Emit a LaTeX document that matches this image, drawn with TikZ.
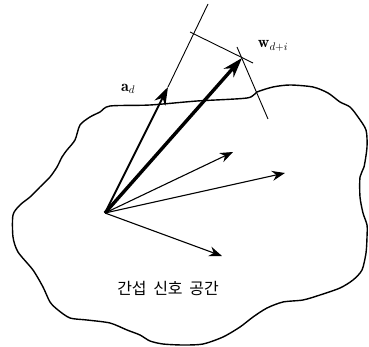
\documentclass[tikz,border=0pt]{standalone}
\usepackage{fontspec}
\newfontfamily\kor{Noto Sans CJK KR}
\usetikzlibrary{arrows.meta}

\begin{document}
\begin{tikzpicture}[x=1pt, y=-1pt, line join=round,
    vec/.style={line width=1.1pt, -{Stealth[length=13pt, width=10pt]}},
    guide/.style={line width=0.9pt}]

  \useasboundingbox (0,0) rectangle (369,347);

  % --- Interference signal space (irregular region) ---
  \draw[line width=1.4pt] plot[smooth cycle, tension=0.45] coordinates {
    (110,106) (150,105) (197,101) (247,98) (257,92) (273,87) (290,85)
    (313,87) (328,93) (340,102) (350,107) (358,117) (366,130) (367,147)
    (364,167) (360,177) (360,197) (363,213) (367,225) (367,237) (366,253)
    (362,270) (353,280) (340,288) (320,295) (303,300) (283,302) (267,308)
    (253,317) (240,327) (223,337) (203,344) (183,345) (163,344) (150,341)
    (140,335) (127,330) (110,323) (87,320) (70,318) (58,310) (50,302)
    (43,287) (33,270) (18,252) (13,237) (13,215) (20,205) (30,197)
    (40,187) (50,177) (57,167) (62,157) (67,150) (75,140) (80,125)
    (90,117) (100,112)};

  % Koordinat
  \coordinate (O)    at (105,213);   % common origin
  \coordinate (ad)   at (168,87);    % tip of a_d
  \coordinate (w)    at (242,58);    % tip of w_{d+i}
  \coordinate (v1)   at (233,152);
  \coordinate (v2)   at (285,173);
  \coordinate (v3)   at (222,256);

  % --- Guide lines ---
  \coordinate (Ltop)  at (208,4);
  \coordinate (Pa)    at (190,32);
  \coordinate (Pb)    at (253,63);
  \coordinate (Qa)    at (237,47);
  \coordinate (Qb)    at (268,119);
  \draw[guide] (ad) -- (Ltop);
  \draw[guide] (Pa) -- (Pb);
  \draw[guide] (Qa) -- (Qb);

  % --- Vectors ---
  \draw[vec] (O) -- (v1);
  \draw[vec] (O) -- (v2);
  \draw[vec] (O) -- (v3);
  \draw[line width=2pt, -{Stealth[length=18pt, width=12pt]}] (O) -- (ad);
  \draw[line width=3.4pt, -{Stealth[length=20pt, width=13pt]}] (O) -- (w);

  % Label
  \node (lad) at (128,89) {\fontsize{16}{18}\selectfont $\mathbf{a}_d$};
  \node (lw)  at (273,46) {\fontsize{16}{18}\selectfont $\mathbf{w}_{d+i}$};
  \node (space) at (168,288)
    {\kor\fontsize{16}{18}\selectfont 간섭\hspace{3pt} 신호\hspace{3pt} 공간};

\end{tikzpicture}
\end{document}
